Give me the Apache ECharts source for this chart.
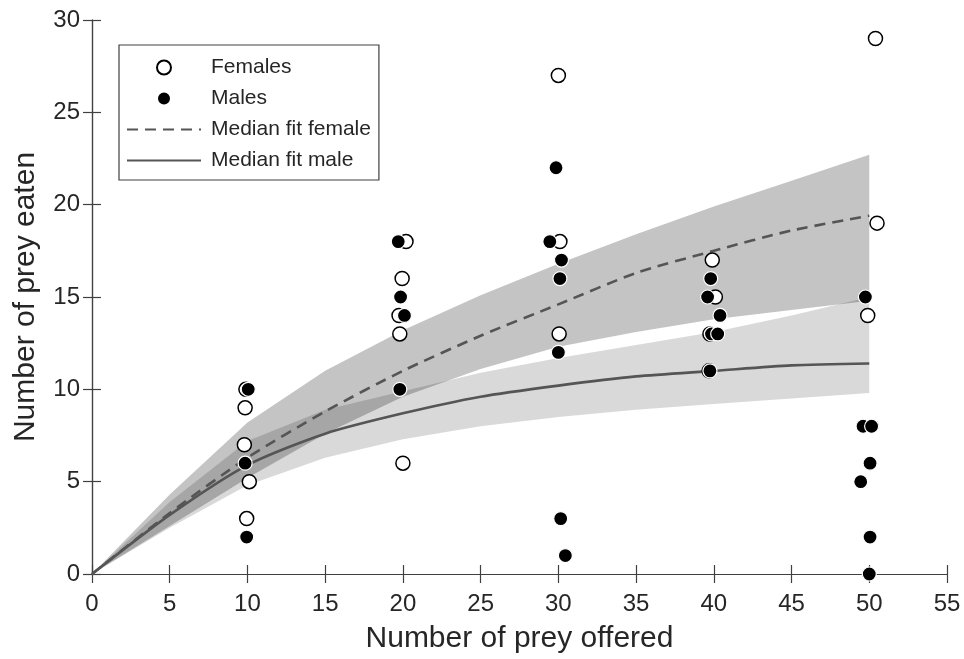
<!DOCTYPE html>
<html>
<head>
<meta charset="utf-8">
<script src="https://cdn.jsdelivr.net/npm/echarts@6/dist/echarts.min.js"></script>
<style>html,body{margin:0;padding:0;background:#fff}#c{width:964px;height:659px}</style>
</head>
<body>
<div id="c"></div>
<script>
// ---- data ----
var femaleX = [9.9, 9.85, 9.8, 10.12, 9.95, 20.2, 19.95, 19.75, 19.8, 20.0, 30.0, 30.1, 30.05, 39.9, 40.1, 39.75, 39.7, 50.4, 50.5, 49.9];
var femaleY = [10, 9, 7, 5, 3, 18, 16, 14, 13, 6, 27, 18, 13, 17, 15, 13, 11, 29, 19, 14];
var maleX = [10.05, 9.85, 9.95, 19.7, 19.85, 20.1, 19.8, 29.85, 29.45, 30.2, 30.1, 30.0, 30.15, 30.45, 39.8, 39.6, 40.4, 39.85, 40.25, 39.75, 49.75, 49.6, 50.15, 50.05, 49.45, 50.05, 50.0];
var maleY = [10, 6, 2, 18, 15, 14, 10, 22, 18, 17, 16, 12, 3, 1, 16, 15, 14, 13, 13, 11, 15, 8, 8, 6, 5, 2, 0];

var fitX = [0, 5, 10, 15, 20, 25, 30, 35, 40, 45, 50];
var femaleMedian = [0, 3.3, 6.3, 8.8, 11.0, 12.9, 14.6, 16.3, 17.5, 18.6, 19.4];
var femaleLower  = [0, 2.6, 5.2, 7.6, 9.6, 11.1, 12.3, 13.1, 13.8, 14.3, 14.8];
var femaleUpper  = [0, 4.3, 8.2, 11.0, 13.2, 15.1, 16.8, 18.4, 19.9, 21.3, 22.7];
var maleMedian = [0, 3.2, 5.9, 7.6, 8.7, 9.6, 10.2, 10.7, 11.0, 11.3, 11.4];
var maleLower  = [0, 2.5, 4.8, 6.3, 7.3, 8.0, 8.5, 8.9, 9.2, 9.5, 9.8];
var maleUpper  = [0, 3.9, 7.2, 8.9, 9.9, 10.9, 11.7, 12.4, 13.1, 14.0, 15.0];

var xTicks = {min: 0, max: 55, interval: 5};
var yTicks = {min: 0, max: 30, interval: 5};

// ---- build ----
function pairs(xs, ys) { return xs.map(function (x, i) { return [x, ys[i]]; }); }

var txt = '#262626';
var font = 'Liberation Sans, Arial, Helvetica, sans-serif';

function bandSeries(lower, upper, fill) {
  var rows = fitX.map(function (x, i) { return [x, lower[i], upper[i]]; });
  return {
    type: 'custom', data: rows, silent: true, z: 1,
    encode: {x: 0, y: [1, 2]},
    renderItem: function (params, api) {
      if (params.dataIndex !== 0) return null;
      var pts = [];
      for (var i = 0; i < rows.length; i++) pts.push(api.coord([rows[i][0], rows[i][2]]));
      for (var j = rows.length - 1; j >= 0; j--) pts.push(api.coord([rows[j][0], rows[j][1]]));
      return {
        type: 'polygon',
        shape: {points: pts},
        style: {fill: fill, stroke: null}
      };
    }
  };
}

var chart = echarts.init(document.getElementById('c'), null, {renderer: 'canvas'});
var axisCommon = {
  axisLine: {show: true, lineStyle: {color: '#404040', width: 1.2}},
  axisTick: {show: true, inside: true, length: 9, lineStyle: {color: '#404040', width: 1.2}},
  splitLine: {show: false}
};

var option = {
  backgroundColor: '#fff',
  animation: false,
  textStyle: {fontFamily: font},
  grid: {left: 92, right: 17, top: 20, bottom: 83, containLabel: false},
  xAxis: [
    Object.assign({
      type: 'value', min: xTicks.min, max: xTicks.max, interval: xTicks.interval,
      name: 'Number of prey offered', nameLocation: 'middle', nameGap: 50,
      nameTextStyle: {fontSize: 30, color: txt, fontFamily: font},
      axisLabel: {fontSize: 24, color: txt, margin: 18, fontFamily: font}
    }, axisCommon),
    Object.assign({
      type: 'value', position: 'top', min: xTicks.min, max: xTicks.max, interval: xTicks.interval,
      axisLabel: {show: false}
    }, axisCommon)
  ],
  yAxis: [
    Object.assign({
      type: 'value', min: yTicks.min, max: yTicks.max, interval: yTicks.interval,
      name: 'Number of prey eaten', nameLocation: 'middle', nameGap: 51,
      nameTextStyle: {fontSize: 30, color: txt, fontFamily: font},
      axisLabel: {fontSize: 24, color: txt, margin: 12, fontFamily: font}
    }, axisCommon),
    Object.assign({
      type: 'value', position: 'right', min: yTicks.min, max: yTicks.max, interval: yTicks.interval,
      axisLabel: {show: false}
    }, axisCommon)
  ],
  legend: {
    orient: 'vertical', left: 119, top: 45,
    backgroundColor: '#fff', borderColor: '#404040', borderWidth: 1.2, borderRadius: 0,
    padding: [12, 8, 9, 7],
    itemWidth: 74, itemHeight: 14, itemGap: 10,
    textStyle: {fontSize: 21, color: txt, fontFamily: font, padding: [0, 0, 0, 5], lineHeight: 21},
    data: [
      {name: 'Females', icon: 'circle'},
      {name: 'Males', icon: 'circle'},
      {name: 'Median fit female', itemStyle: {opacity: 0}},
      {name: 'Median fit male', itemStyle: {opacity: 0}}
    ]
  },
  series: [
    bandSeries(maleLower, maleUpper, 'rgba(0,0,0,0.15)'),
    bandSeries(femaleLower, femaleUpper, 'rgba(0,0,0,0.23)'),
    {
      name: 'Median fit female', type: 'line', data: pairs(fitX, femaleMedian),
      symbol: 'none', z: 3, smooth: 0.25,
      lineStyle: {color: '#555555', width: 2.6, type: [11, 7]},
      itemStyle: {color: '#555555'}
    },
    {
      name: 'Median fit male', type: 'line', data: pairs(fitX, maleMedian),
      symbol: 'none', z: 3, smooth: 0.25,
      lineStyle: {color: '#555555', width: 2.6},
      itemStyle: {color: '#555555'}
    },
    {
      name: 'Females', type: 'scatter', data: pairs(femaleX, femaleY),
      symbol: 'circle', symbolSize: 14, z: 4,
      itemStyle: {color: '#ffffff', borderColor: '#000000', borderWidth: 1.5, opacity: 1}
    },
    {
      name: 'Males', type: 'scatter', data: pairs(maleX, maleY),
      symbol: 'circle', symbolSize: 14, z: 5,
      itemStyle: {color: '#000000', borderColor: '#ffffff', borderWidth: 1.2, opacity: 1}
    }
  ]
};
chart.setOption(option);
</script>
</body>
</html>
